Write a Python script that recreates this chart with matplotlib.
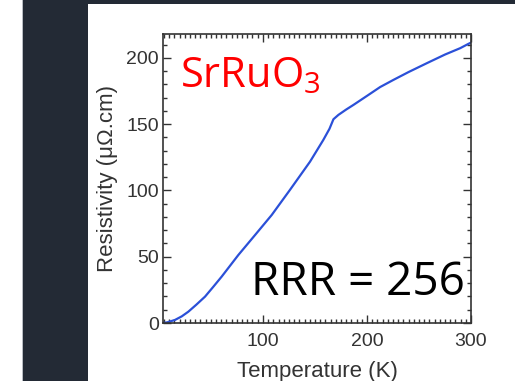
import matplotlib
matplotlib.use("Agg")
import matplotlib.pyplot as plt
from matplotlib.patches import Rectangle
from matplotlib.ticker import MultipleLocator

# Resistivity curve of SrRuO3 (temperature in K, resistivity in µΩ·cm)
temperature = [4, 8, 15.5, 22, 28.3, 36, 44.4, 52, 60.4, 76.4, 92.5, 108.5, 126,
               145.3, 158, 164, 167.8, 172.6, 180, 187, 200, 212.7, 225.5, 240,
               257.6, 275, 289.6, 297.6, 300]
resistivity = [0, 0.5, 2.3, 5, 8.5, 13.8, 19.9, 27, 35, 51.3, 66.4, 81.5, 100.4,
               121.7, 138, 146.5, 153.7, 157, 161, 164.5, 171.3, 178, 183.4, 189.3,
               196, 202.5, 207.3, 210.6, 211.5]

x_ticks = [100, 200, 300]
y_ticks = [0, 50, 100, 150, 200]
x_label = "Temperature (K)"
y_label = "Resistivity (μΩ.cm)"
title_text = "SrRuO$_3$"
rrr_text = "RRR = 256"

plt.rcParams["mathtext.fontset"] = "custom"
plt.rcParams["mathtext.rm"] = "Open Sans"
plt.rcParams["mathtext.it"] = "Open Sans"

W, H = 515, 381
fig = plt.figure(figsize=(W / 100, H / 100), dpi=100)
fig.patch.set_facecolor("white")

dark = "#232a35"
# slide frame: dark side bar and thin top band
fig.patches.append(Rectangle((22 / W, 0), (88 - 22) / W, 1, transform=fig.transFigure,
                             facecolor=dark, edgecolor="none", zorder=0))
fig.patches.append(Rectangle((22 / W, 1 - 4 / H), 1, 4 / H, transform=fig.transFigure,
                             facecolor=dark, edgecolor="none", zorder=0))
fig.patches.append(Rectangle((22 / W, 0), 1 / W, 1, transform=fig.transFigure,
                             facecolor="#b8bcc2", edgecolor="none", zorder=0))

ax = fig.add_axes([163 / W, 58 / H, (471 - 163) / W, (323 - 34) / H])
ax.plot(temperature, resistivity, color="#2b50d8", lw=1.6,
        solid_capstyle="round", solid_joinstyle="round")

ax.set_xlim(4, 300)
ax.set_ylim(0, 218)
ax.set_xticks(x_ticks)
ax.set_yticks(y_ticks)
ax.xaxis.set_minor_locator(MultipleLocator(5))
ax.yaxis.set_minor_locator(MultipleLocator(10))

tick_color = "#333333"
ax.tick_params(which="both", direction="in", top=True, right=True, color=tick_color,
               width=1.0, labelsize=14, labelcolor=tick_color)
ax.tick_params(which="major", length=6)
ax.tick_params(which="minor", length=3)
ax.tick_params(axis="x", pad=7)
ax.tick_params(axis="y", pad=3)
for lab in ax.get_xticklabels() + ax.get_yticklabels():
    lab.set_family("Liberation Sans")
for sp in ax.spines.values():
    sp.set_color(tick_color)
    sp.set_linewidth(1.2)

ax.set_xlabel(x_label, fontsize=16, family="Liberation Sans", color=tick_color, labelpad=8)
ax.set_ylabel(y_label, fontsize=16, family="Liberation Sans", color=tick_color, labelpad=6)

ax.text(180 / W, 1 - 87 / H, title_text, transform=fig.transFigure, color="#ff0000",
        fontsize=30, family="Open Sans", ha="left", va="baseline")
ax.text(251 / W, 1 - 295 / H, rrr_text, transform=fig.transFigure, color="black",
        fontsize=33, family="Open Sans", ha="left", va="baseline")

fig.savefig("out.png", dpi=100, facecolor=fig.get_facecolor())
